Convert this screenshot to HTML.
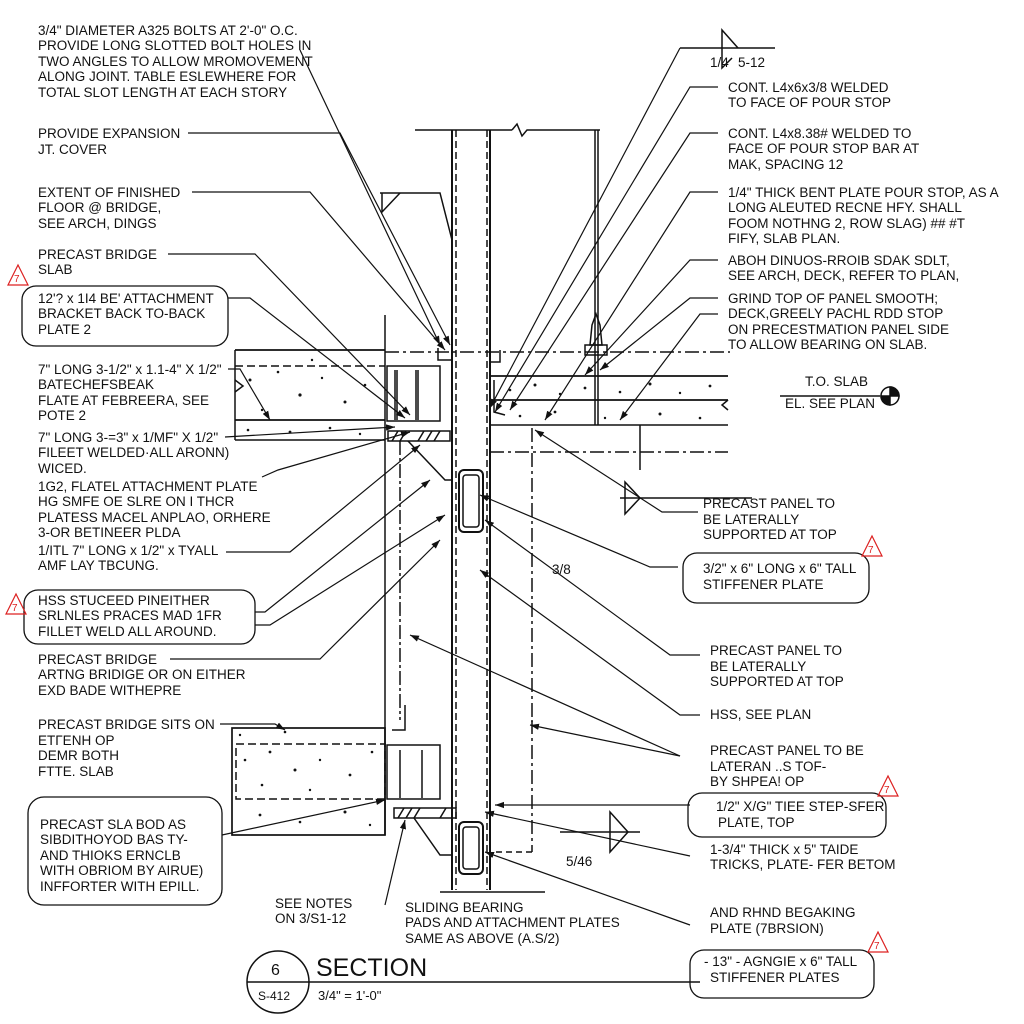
<!DOCTYPE html>
<html><head><meta charset="utf-8">
<style>
html,body{margin:0;padding:0;background:#fff;}
svg{display:block;}
text{font-family:"Liberation Sans",Arial,sans-serif;font-size:13.5px;fill:#111;}
</style></head>
<body>
<svg width="1024" height="1024" viewBox="0 0 1024 1024" xmlns="http://www.w3.org/2000/svg">
<defs>
<marker id="a" viewBox="0 0 10 10" refX="10" refY="5" markerWidth="9" markerHeight="9" orient="auto-start-reverse" markerUnits="userSpaceOnUse"><path d="M0,1.5 L10,5 L0,8.5 Z" fill="#111"/></marker>
</defs>
<rect width="1024" height="1024" fill="#fff"/>
<g stroke="#111" fill="none" stroke-width="1.5">
<line x1="415" y1="130" x2="512" y2="130"/><path d="M512,130 L517,124 L522,136 L527,130 L600,130"/>
<line x1="452" y1="130" x2="452" y2="890" stroke-width="2"/>
<line x1="490" y1="130" x2="490" y2="890" stroke-width="2"/>
<line x1="456" y1="130" x2="456" y2="890" stroke-dasharray="7,4"/>
<line x1="487" y1="130" x2="487" y2="890" stroke-dasharray="7,4"/>
<line x1="595" y1="130" x2="595" y2="425"/><line x1="598" y1="130" x2="598" y2="425"/>
<path d="M380,193 L440,193 L452,240"/><path d="M382,193 L382,212 L400,193"/>
<line x1="235" y1="350" x2="385" y2="350" stroke-width="1.8"/>
<line x1="235" y1="366" x2="385" y2="366" stroke-dasharray="8,4"/>
<line x1="235" y1="420" x2="385" y2="420" stroke-width="1.8"/>
<line x1="235" y1="440" x2="385" y2="440"/>
<line x1="235" y1="350" x2="235" y2="440"/>
<path d="M235,392 l8,-6 l-8,-6"/>
<line x1="385" y1="315" x2="385" y2="835"/>
<rect x="387" y="366" width="53" height="55"/>
<line x1="395" y1="370" x2="395" y2="420"/><line x1="397" y1="370" x2="397" y2="420"/>
<line x1="416" y1="370" x2="416" y2="420"/><line x1="418" y1="370" x2="418" y2="420"/>
<rect x="388" y="431" width="62" height="10"/>
<path d="M392,441 l6,-10 M400,441 l6,-10 M418,441 l6,-10 M426,441 l6,-10 M434,441 l6,-10"/>
<path d="M408,441 L445,480 L452,480"/>
<line x1="400" y1="441" x2="400" y2="720" stroke-dasharray="14,3,3,3"/>
<line x1="385" y1="352" x2="730" y2="352" stroke-dasharray="14,4,3,4"/>
<path d="M438,348 L438,360 L452,360"/><path d="M490,362 L500,362 L500,350"/>
<line x1="490" y1="376" x2="728" y2="376" stroke-width="1.8"/>
<line x1="490" y1="400" x2="728" y2="400" stroke-width="1.8"/>
<line x1="490" y1="425" x2="728" y2="425"/>
<path d="M494,380 L494,412 L505,415"/>
<path d="M728,400 l-6,5 l6,5"/>
<line x1="490" y1="452" x2="728" y2="452" stroke-dasharray="14,4,3,4"/>
<line x1="532" y1="428" x2="532" y2="722" stroke-dasharray="14,4,3,4"/>
<line x1="640" y1="425" x2="640" y2="470"/>
<path d="M620,498 L752,498"/><path d="M625,482 L640,498 L625,514 Z"/>
<path d="M590,345 L592,325 L596,314 L600,325 L602,345 Z"/>
<rect x="585" y="345" width="22" height="10"/>
<rect x="459" y="470" width="24" height="62" rx="5" stroke-width="2"/>
<rect x="463" y="475" width="16" height="52" rx="3"/>
<rect x="459" y="822" width="24" height="52" rx="5" stroke-width="2"/>
<rect x="463" y="827" width="16" height="42" rx="3"/>
<rect x="232" y="728" width="153" height="107" stroke-width="1.7"/>
<rect x="236" y="744" width="149" height="55" stroke-dasharray="8,4"/>
<rect x="387" y="745" width="53" height="54"/>
<line x1="400" y1="750" x2="400" y2="798"/><line x1="422" y1="750" x2="422" y2="798"/>
<rect x="394" y="808" width="62" height="10"/>
<path d="M398,818 l6,-10 M406,818 l6,-10 M414,818 l6,-10 M440,818 l6,-10"/>
<path d="M414,818 L440,855 L452,855"/>
<path d="M392,730 L405,730 L405,705"/>
<line x1="532" y1="720" x2="532" y2="852" stroke-dasharray="14,4,3,4"/>
<line x1="496" y1="852" x2="532" y2="852" stroke-dasharray="6,4"/>
<line x1="440" y1="892" x2="545" y2="892"/>
<path d="M560,832 L640,832"/><path d="M610,812 L628,832 L610,852 Z"/>
<line x1="780" y1="396" x2="880" y2="396"/>
<circle cx="890" cy="396" r="9"/>
<path d="M890,387 A9,9 0 0,1 899,396 L890,396 Z M890,405 A9,9 0 0,1 881,396 L890,396 Z" fill="#111"/>
<path d="M680,48 L775,48"/><path d="M722,48 L722,30 L738,48"/><path d="M722,48 L722,68 L732,58"/>
</g>
<!-- speckles -->
<g fill="#111">
<circle cx="250" cy="380" r="1.5"/><circle cx="278" cy="372" r="1.3"/><circle cx="300" cy="395" r="1.6"/><circle cx="322" cy="378" r="1.2"/><circle cx="345" cy="402" r="1.5"/><circle cx="365" cy="385" r="1.3"/><circle cx="262" cy="410" r="1.2"/><circle cx="290" cy="432" r="1.4"/><circle cx="330" cy="428" r="1.3"/><circle cx="360" cy="434" r="1.2"/><circle cx="248" cy="430" r="1.3"/><circle cx="312" cy="360" r="1.2"/>
<circle cx="510" cy="390" r="1.3"/><circle cx="535" cy="385" r="1.5"/><circle cx="560" cy="394" r="1.2"/><circle cx="585" cy="388" r="1.4"/><circle cx="620" cy="392" r="1.3"/><circle cx="650" cy="384" r="1.5"/><circle cx="680" cy="393" r="1.2"/><circle cx="710" cy="386" r="1.4"/><circle cx="520" cy="416" r="1.3"/><circle cx="555" cy="412" r="1.4"/><circle cx="605" cy="418" r="1.2"/><circle cx="660" cy="414" r="1.5"/><circle cx="700" cy="418" r="1.3"/>
<circle cx="245" cy="760" r="1.3"/><circle cx="270" cy="752" r="1.4"/><circle cx="295" cy="770" r="1.5"/><circle cx="320" cy="760" r="1.2"/><circle cx="350" cy="775" r="1.4"/><circle cx="372" cy="752" r="1.3"/><circle cx="262" cy="785" r="1.3"/><circle cx="310" cy="790" r="1.2"/><circle cx="260" cy="815" r="1.4"/><circle cx="300" cy="822" r="1.3"/><circle cx="345" cy="812" r="1.5"/><circle cx="370" cy="825" r="1.2"/><circle cx="240" cy="735" r="1.2"/><circle cx="285" cy="732" r="1.3"/>
</g>
<g stroke="#111" fill="none" stroke-width="1.2" marker-end="url(#a)">
<path d="M680,48 L490,408"/>
<path d="M718,87 L690,87 L495,412"/>
<path d="M718,133 L690,133 L510,410"/>
<path d="M718,192 L690,192 L545,420"/>
<path d="M718,260 L690,260 L585,375"/>
<path d="M718,298 L690,298 L600,370"/>
<path d="M718,314 L700,314 L620,420"/>
<path d="M698,512 L662,512 L535,430"/>
<path d="M678,567 L650,567 L480,495"/>
<path d="M700,655 L670,655 L485,520"/>
<path d="M700,715 L680,715 L480,570"/>
<path d="M680,756 L530,725"/>
<path d="M680,756 L410,635"/>
<path d="M690,805 L495,805"/>
<path d="M690,856 L485,812"/>
<path d="M690,925 L485,852"/>
<path d="M188,133 L340,133 L450,345"/>
<path d="M192,192 L310,192 L445,350"/>
<path d="M168,254 L255,254 L410,415"/>
<path d="M228,298 L250,298 L405,418"/>
<path d="M228,369 L240,369 L270,420"/>
<path d="M225,437 L395,427"/>
<path d="M262,477 L278,470 L410,432"/>
<path d="M226,552 L290,552 L420,445"/>
<path d="M255,612 L265,612 L430,480"/>
<path d="M255,625 L270,625 L445,515"/>
<path d="M170,659 L320,659 L440,540"/>
<path d="M220,724 L275,724 L285,730"/>
<path d="M222,835 L385,800"/>
<path d="M385,905 L405,820"/>
<path d="M300,50 L440,345"/>
</g>
<g stroke="#111" fill="none" stroke-width="1.3">
<rect x="22" y="286" width="206" height="60" rx="14"/>
<rect x="24" y="590" width="231" height="54" rx="14"/>
<rect x="28" y="797" width="194" height="108" rx="16"/>
<rect x="683" y="553" width="186" height="50" rx="14"/>
<rect x="688" y="793" width="198" height="44" rx="14"/>
<rect x="690" y="950" width="184" height="48" rx="14"/>
</g>
<g stroke="#d22" fill="none" stroke-width="1.2">
<path d="M8,285 L18,265 L28,285 Z"/><path d="M6,614 L16,594 L26,614 Z"/>
<path d="M862,556 L872,536 L882,556 Z"/><path d="M878,796 L888,776 L898,796 Z"/>
<path d="M868,952 L878,932 L888,952 Z"/>
</g>
<text x="14" y="282" style="font-size:10px;fill:#d22">7</text><text x="12" y="611" style="font-size:10px;fill:#d22">7</text><text x="868" y="553" style="font-size:10px;fill:#d22">7</text><text x="884" y="793" style="font-size:10px;fill:#d22">7</text><text x="874" y="949" style="font-size:10px;fill:#d22">7</text>
<text x="38" y="35">3/4" DIAMETER A325 BOLTS AT 2'-0" O.C.</text>
<text x="38" y="50">PROVIDE LONG SLOTTED BOLT HOLES IN</text>
<text x="38" y="66">TWO ANGLES TO ALLOW MROMOVEMENT</text>
<text x="38" y="81">ALONG JOINT. TABLE ESLEWHERE FOR</text>
<text x="38" y="97">TOTAL SLOT LENGTH AT EACH STORY</text>
<text x="38" y="138">PROVIDE EXPANSION</text>
<text x="38" y="154">JT. COVER</text>
<text x="38" y="197">EXTENT OF FINISHED</text>
<text x="38" y="212">FLOOR @ BRIDGE,</text>
<text x="38" y="228">SEE ARCH, DINGS</text>
<text x="38" y="259">PRECAST BRIDGE</text>
<text x="38" y="274">SLAB</text>
<text x="38" y="303">12'? x 1I4 BE' ATTACHMENT</text>
<text x="38" y="318">BRACKET BACK TO-BACK</text>
<text x="38" y="334">PLATE 2</text>
<text x="38" y="374">7" LONG 3-1/2" x 1.1-4" X 1/2"</text>
<text x="38" y="389">BATECHEFSBEAK</text>
<text x="38" y="405">FLATE AT FEBREERA, SEE</text>
<text x="38" y="420">POTE 2</text>
<text x="38" y="442">7" LONG 3-=3" x 1/MF" X 1/2"</text>
<text x="38" y="457">FILEET WELDED·ALL ARONN)</text>
<text x="38" y="473">WICED.</text>
<text x="38" y="491">1G2, FLATEL ATTACHMENT PLATE</text>
<text x="38" y="506">HG SMFE OE SLRE ON I THCR</text>
<text x="38" y="522">PLATESS MACEL ANPLAO, ORHERE</text>
<text x="38" y="537">3-OR BETINEER PLDA</text>
<text x="38" y="555">1/ITL 7" LONG x 1/2" x TYALL</text>
<text x="38" y="570">AMF LAY TBCUNG.</text>
<text x="38" y="605">HSS STUCEED PINEITHER</text>
<text x="38" y="620">SRLNLES PRACES MAD 1FR</text>
<text x="38" y="636">FILLET WELD ALL AROUND.</text>
<text x="38" y="664">PRECAST BRIDGE</text>
<text x="38" y="679">ARTNG BRIDIGE OR ON EITHER</text>
<text x="38" y="695">EXD BADE WITHEPRE</text>
<text x="38" y="729">PRECAST BRIDGE SITS ON</text>
<text x="38" y="745">ETΓENH OP</text>
<text x="38" y="760">DEMR BOTH</text>
<text x="38" y="776">FTTE. SLAB</text>
<text x="40" y="829">PRECAST SLA BOD AS</text>
<text x="40" y="844">SIBDITHOYOD BAS TY-</text>
<text x="40" y="860">AND THIOKS ERNCLB</text>
<text x="40" y="875">WITH OBRIOM BY AIRUE)</text>
<text x="40" y="891">INFFORTER WITH EPILL.</text>
<text x="275" y="908">SEE NOTES</text>
<text x="275" y="923">ON 3/S1-12</text>
<text x="405" y="912">SLIDING BEARING</text>
<text x="405" y="927">PADS AND ATTACHMENT PLATES</text>
<text x="405" y="943">SAME AS ABOVE (A.S/2)</text>
<text x="710" y="67">1/4</text><text x="738" y="67">5-12</text>
<text x="728" y="92">CONT. L4x6x3/8 WELDED</text>
<text x="728" y="107">TO FACE OF POUR STOP</text>
<text x="728" y="138">CONT. L4x8.38# WELDED TO</text>
<text x="728" y="153">FACE OF POUR STOP BAR AT</text>
<text x="728" y="169">MAK, SPACING 12</text>
<text x="728" y="197">1/4" THICK BENT PLATE POUR STOP, AS A</text>
<text x="728" y="212">LONG ALEUTED RECNE HFY. SHALL</text>
<text x="728" y="228">FOOM NOTHNG 2, ROW SLAG) ## #T</text>
<text x="728" y="243">FIFY, SLAB PLAN.</text>
<text x="728" y="265">ABOH DINUOS-RROIB SDAK SDLT,</text>
<text x="728" y="280">SEE ARCH, DECK, REFER TO PLAN,</text>
<text x="728" y="303">GRIND TOP OF PANEL SMOOTH;</text>
<text x="728" y="318">DECK,GREELY PACHL RDD STOP</text>
<text x="728" y="334">ON PRECESTMATION PANEL SIDE</text>
<text x="728" y="349">TO ALLOW BEARING ON SLAB.</text>
<text x="805" y="386">T.O. SLAB</text>
<text x="785" y="408">EL. SEE PLAN</text>
<text x="703" y="508">PRECAST PANEL TO</text>
<text x="703" y="524">BE LATERALLY</text>
<text x="703" y="539">SUPPORTED AT TOP</text>
<text x="552" y="574">3/8</text>
<text x="703" y="573">3/2" x 6" LONG x 6" TALL</text>
<text x="703" y="589">STIFFENER PLATE</text>
<text x="710" y="655">PRECAST PANEL TO</text>
<text x="710" y="671">BE LATERALLY</text>
<text x="710" y="686">SUPPORTED AT TOP</text>
<text x="710" y="719">HSS, SEE PLAN</text>
<text x="710" y="755">PRECAST PANEL TO BE</text>
<text x="710" y="771">LATERAN ..S TOF-</text>
<text x="710" y="786">BY SHPEA! OP</text>
<text x="716" y="811">1/2" X/G" TIEE STEP-SFER</text>
<text x="718" y="827">PLATE, TOP</text>
<text x="566" y="866">5/46</text>
<text x="710" y="854">1-3/4" THICK x 5" TAIDE</text>
<text x="710" y="869">TRICKS, PLATE- FER BETOM</text>
<text x="710" y="917">AND RHND BEGAKING</text>
<text x="710" y="933">PLATE (7BRSION)</text>
<text x="704" y="966">- 13" - AGNGIE x 6" TALL</text>
<text x="710" y="982">STIFFENER PLATES</text>
<g stroke="#111" fill="none" stroke-width="1.5">
<circle cx="278" cy="982" r="31"/>
<line x1="247" y1="982" x2="700" y2="982"/>
</g>
<text x="271" y="975" style="font-size:16px">6</text>
<text x="258" y="1000" style="font-size:12px">S-412</text>
<text x="316" y="976" style="font-size:25px">SECTION</text>
<text x="318" y="1000" style="font-size:13px">3/4" = 1'-0"</text>
</svg>
</body></html>
